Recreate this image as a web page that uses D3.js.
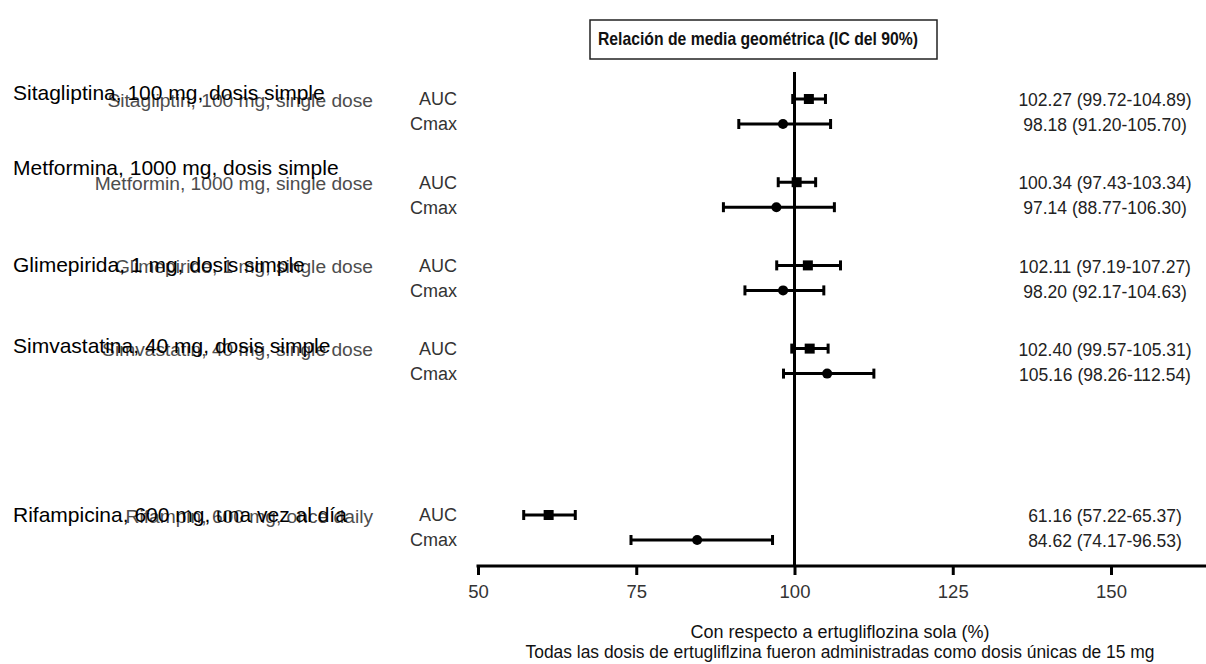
<!DOCTYPE html>
<html>
<head>
<meta charset="utf-8">
<script src="https://cdn.jsdelivr.net/npm/d3@7/dist/d3.min.js"></script>
<style>
  html, body { margin: 0; padding: 0; background: #fff; }
  svg { display: block; font-family: "Liberation Sans", Arial, Helvetica, sans-serif; }
</style>
</head>
<body>
<svg id="chart" width="1206" height="664"></svg>
<script>
// ---- data ----
const drugsEs = [
  "Sitagliptina, 100 mg, dosis simple",
  "Metformina, 1000 mg, dosis simple",
  "Glimepirida, 1 mg, dosis simple",
  "Simvastatina, 40 mg, dosis simple",
  "Rifampicina, 600 mg, una vez al día"
];
const drugsEn = [
  "Sitagliptin, 100 mg, single dose",
  "Metformin, 1000 mg, single dose",
  "Glimepiride, 1 mg, single dose",
  "Simvastatin, 40 mg, single dose",
  "Rifampin, 600 mg, once daily"
];
const aucRatio = [102.27, 100.34, 102.11, 102.40, 61.16];
const aucLow   = [99.72, 97.43, 97.19, 99.57, 57.22];
const aucHigh  = [104.89, 103.34, 107.27, 105.31, 65.37];
const cmaxRatio = [98.18, 97.14, 98.20, 105.16, 84.62];
const cmaxLow   = [91.20, 88.77, 92.17, 98.26, 74.17];
const cmaxHigh  = [105.70, 106.30, 104.63, 112.54, 96.53];
const xTicks = [50, 75, 100, 125, 150];
const metrics = ["AUC", "Cmax"];
const titleText = "Relación de media geométrica (IC del 90%)";
const axisTitle1 = "Con respecto a ertugliflozina sola (%)";
const axisTitle2 = "Todas las dosis de ertugliflzina fueron administradas como dosis únicas de 15 mg";

// ---- layout ----
const rowSlot = [0, 1, 2, 3, 5];          // vertical slot of each drug (gap before rifampicin)
const esLabelDy = [-6, -15, -1, -3, 0];   // nudge of the Spanish captions
const axisY = 566;
const refTop = 72;
const cmaxOffset = 25;

const svg = d3.select("#chart");

const x = d3.scaleLinear().domain([50, 150]).range([478, 1111]);
const y = d3.scaleLinear().domain([0, 5]).range([99, 515]);

const fmt = d3.format(".2f");

// title box
const tb = svg.append("g");
tb.append("rect")
  .attr("x", 590).attr("y", 20).attr("width", 347).attr("height", 39)
  .attr("fill", "#fff").attr("stroke", "#222").attr("stroke-width", 1.5);
tb.append("text")
  .attr("x", 758).attr("y", 39).attr("dy", "0.35em")
  .attr("text-anchor", "middle")
  .attr("font-size", 18.5).attr("font-weight", "bold").attr("fill", "#111")
  .attr("textLength", 320).attr("lengthAdjust", "spacingAndGlyphs")
  .text(titleText);

// x axis
const axis = d3.axisBottom(x).tickValues(xTicks).tickSize(9).tickPadding(10).tickFormat(d3.format("d"));
const ax = svg.append("g").attr("transform", `translate(0,${axisY})`).call(axis);
ax.select(".domain").remove();
ax.append("line")
  .attr("x1", x(50) - 1.5).attr("x2", 1206).attr("y1", 0).attr("y2", 0)
  .attr("stroke", "#000").attr("stroke-width", 3);
ax.selectAll(".tick line").attr("stroke", "#000").attr("stroke-width", 3);
ax.selectAll(".tick text")
  .attr("font-family", "'Liberation Sans', Arial, sans-serif")
  .attr("font-size", 18.5).attr("fill", "#333");

// reference line at 100%
svg.append("line")
  .attr("x1", x(100)).attr("x2", x(100))
  .attr("y1", refTop).attr("y2", axisY)
  .attr("stroke", "#000").attr("stroke-width", 3);

// axis captions
svg.append("text")
  .attr("x", 840).attr("y", 632).attr("dy", "0.35em").attr("text-anchor", "middle")
  .attr("font-size", 17.5).attr("fill", "#111")
  .attr("textLength", 299).attr("lengthAdjust", "spacingAndGlyphs")
  .text(axisTitle1);
svg.append("text")
  .attr("x", 840).attr("y", 652).attr("dy", "0.35em").attr("text-anchor", "middle")
  .attr("font-size", 17.5).attr("fill", "#111")
  .attr("textLength", 629).attr("lengthAdjust", "spacingAndGlyphs")
  .text(axisTitle2);

// rows
const rows = drugsEs.map((es, i) => ({
  i, es, en: drugsEn[i], yy: y(rowSlot[i]),
  stats: [
    { m: metrics[0], v: aucRatio[i], lo: aucLow[i], hi: aucHigh[i] },
    { m: metrics[1], v: cmaxRatio[i], lo: cmaxLow[i], hi: cmaxHigh[i] }
  ]
}));

const g = svg.append("g");

// English captions (grey, under the Spanish ones)
g.selectAll("text.en").data(rows).join("text")
  .attr("class", "en")
  .attr("x", 373).attr("y", d => d.yy + 1).attr("dy", "0.35em")
  .attr("text-anchor", "end").attr("font-size", 19.2).attr("fill", "#4d4d4d")
  .text(d => d.en);

// Spanish captions
g.selectAll("text.es").data(rows).join("text")
  .attr("class", "es")
  .attr("x", 13).attr("y", d => d.yy + esLabelDy[d.i]).attr("dy", "0.35em")
  .attr("font-size", 21).attr("fill", "#000")
  .text(d => d.es);

rows.forEach(r => {
  r.stats.forEach((s, k) => {
    const yy = r.yy + k * cmaxOffset;
    // metric label
    g.append("text")
      .attr("x", 457).attr("y", yy).attr("dy", "0.35em").attr("text-anchor", "end")
      .attr("font-size", 18).attr("fill", "#333").text(s.m);
    // value text
    g.append("text")
      .attr("x", 1105).attr("y", yy + 1).attr("dy", "0.35em").attr("text-anchor", "middle")
      .attr("font-size", 17.5).attr("fill", "#222")
      .text(`${fmt(s.v)} (${fmt(s.lo)}-${fmt(s.hi)})`);
    // CI whisker
    g.append("line")
      .attr("x1", x(s.lo)).attr("x2", x(s.hi)).attr("y1", yy).attr("y2", yy)
      .attr("stroke", "#000").attr("stroke-width", 3);
    [s.lo, s.hi].forEach(e => {
      g.append("line")
        .attr("x1", x(e)).attr("x2", x(e)).attr("y1", yy - 5).attr("y2", yy + 5)
        .attr("stroke", "#000").attr("stroke-width", 3);
    });
    // point estimate
    if (k === 0) {
      g.append("rect")
        .attr("x", x(s.v) - 5).attr("y", yy - 5).attr("width", 10).attr("height", 10)
        .attr("fill", "#000");
    } else {
      g.append("circle")
        .attr("cx", x(s.v)).attr("cy", yy).attr("r", 5)
        .attr("fill", "#000");
    }
  });
});
</script>
</body>
</html>
